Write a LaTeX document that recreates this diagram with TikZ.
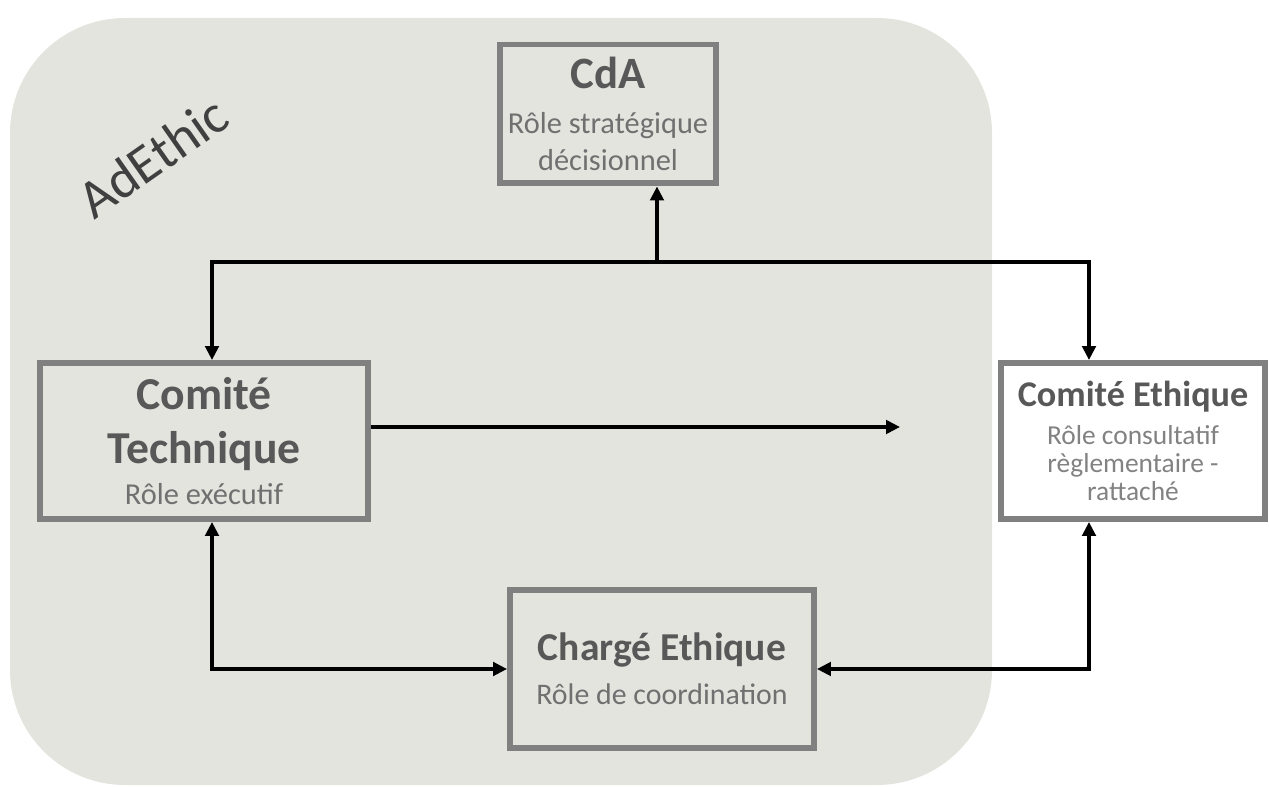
\documentclass[tikz,border=0pt]{standalone}
\usepackage{fontspec}
\setmainfont{Carlito}
\usetikzlibrary{arrows.meta}

\definecolor{zonefill}{RGB}{228,228,223}
\definecolor{boxline}{RGB}{128,128,128}
\definecolor{titlegray}{RGB}{88,88,88}
\definecolor{rolegray}{RGB}{112,112,112}
\definecolor{rolelight}{RGB}{130,130,130}
\definecolor{zonetext}{RGB}{64,64,64}

% one line of a box: title or role
\newcommand{\ttl}[2]{{\fontsize{#1}{#1}\selectfont\bfseries\color{titlegray}#2}}
\newcommand{\rl}[2]{{\fontsize{#1}{#1}\selectfont\color{rolegray}#2}}
\newcommand{\rlight}[2]{{\fontsize{#1}{#1}\selectfont\color{rolelight}#2}}

\begin{document}
\begin{tikzpicture}[x=0.02cm, y=-0.02cm,
  rolebox/.style={draw=boxline, line width=3.4pt, fill=zonefill, align=center, inner sep=0pt},
  link/.style={line width=1.9pt, -{Triangle[length=2.8mm, width=2.7mm]}},
  twolink/.style={line width=1.9pt, {Triangle[length=2.8mm, width=2.7mm]}-{Triangle[length=2.8mm, width=2.7mm]}}]
\useasboundingbox (0,0) rectangle (1269,787);
% AdEthic zone
\fill[zonefill, rounded corners=2.3cm] (10,18) rectangle (992,785);
\node[rotate=35, text=zonetext, font=\fontsize{31}{36}\selectfont] (adethic) at (153,157) {AdEthic};
% boxes
\node[rolebox, minimum width=4.34cm, minimum height=2.78cm, font=\fontsize{17}{21}\selectfont] (cda) at (608,114)
  {\ttl{25.5}{CdA}\\[5pt] \rl{17.3}{Rôle stratégique}\\ \rl{17.3}{décisionnel}};
\node[rolebox, minimum width=6.56cm, minimum height=3.12cm, font=\fontsize{17}{23}\selectfont] (ctech) at (204,441)
  {\ttl{26}{Comité}\\[8pt] \ttl{26}{Technique}\\ \rl{17.3}{Rôle exécutif}};
\node[rolebox, fill=white, minimum width=5.3cm, minimum height=3.12cm, font=\fontsize{15}{16}\selectfont] (cethic) at (1133,441)
  {\ttl{20.6}{Comité Ethique}\\[5.6pt] \rlight{15.6}{Rôle consultatif}\\ \rlight{15.6}{règlementaire -}\\ \rlight{15.6}{rattaché}};
\node[rolebox, minimum width=6.08cm, minimum height=3.18cm, font=\fontsize{17}{25}\selectfont] (charge) at (662,669)
  {\ttl{22.5}{Chargé Ethique}\\ \rl{17}{Rôle de coordination}};
% top links
\coordinate (jleft) at (212,262);
\coordinate (jright) at (1089,262);
\coordinate (jtop) at (657,262);
\draw[twolink] (ctech.north -| jleft) -- (jleft) -- (jright) -- (cethic.north -| jright);
\draw[link] (jtop) -- (cda.south -| jtop);
% open arrow from the technical committee
\coordinate (tip) at (900,427);
\draw[link] (ctech.east |- tip) -- (tip);
% bottom links
\coordinate (bleft) at (212,669);
\coordinate (bright) at (1089,669);
\draw[twolink] (ctech.south -| bleft) -- (bleft |- charge.west) -- (charge.west);
\draw[twolink] (cethic.south -| bright) -- (bright |- charge.east) -- (charge.east);
\end{tikzpicture}
\end{document}
